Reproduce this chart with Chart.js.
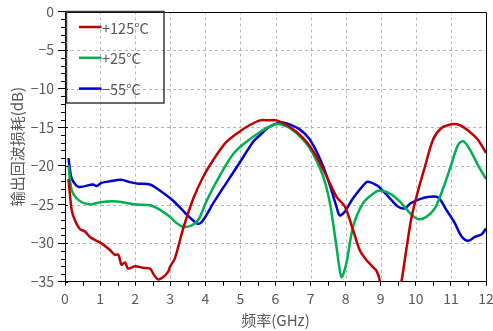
<!DOCTYPE html>
<html>
<head>
<meta charset="utf-8">
<script src="https://cdn.jsdelivr.net/npm/chart.js@4/dist/chart.umd.min.js"></script>
<style>
  html, body { margin: 0; padding: 0; background: #fff; }
  #wrap { width: 493px; height: 331px; }
</style>
</head>
<body>
<div id="wrap"><canvas id="c" width="493" height="331"></canvas></div>
<script>
// Output return loss versus frequency at three temperatures
const seriesLabels = ['+125°C', '+25°C', '\u221255°C'];
const seriesColors = ['#C00000', '#00B050', '#0000D0'];

const freqHot = [0.1, 0.19, 0.28, 0.43, 0.57, 0.71, 0.9, 1.09, 1.28, 1.42, 1.52, 1.61, 1.71, 1.8, 1.99, 2.23, 2.42, 2.56, 2.66, 2.8, 2.94, 3.0, 3.13, 3.37, 3.66, 3.94, 4.23, 4.6, 4.99, 5.27, 5.56, 5.84, 6.03, 6.32, 6.6, 6.89, 7.17, 7.46, 7.74, 7.98, 8.21, 8.4, 8.59, 8.78, 8.88, 8.97, 9.1, 9.45, 9.59, 9.74, 9.88, 10.07, 10.26, 10.49, 10.73, 11.02, 11.25, 11.54, 11.77, 12.0];
const lossHot = [-21.7, -25.7, -27.0, -28.2, -28.5, -29.2, -29.7, -30.2, -30.9, -31.5, -31.5, -32.8, -32.5, -33.3, -33.0, -33.2, -33.3, -34.3, -34.7, -34.4, -33.7, -33.0, -32.0, -28.1, -24.2, -21.4, -19.2, -16.9, -15.5, -14.7, -14.1, -14.1, -14.1, -14.7, -15.6, -16.9, -18.8, -21.4, -24.0, -25.3, -28.3, -30.9, -32.2, -33.1, -33.6, -34.8, -38.0, -38.0, -35.0, -30.5, -26.6, -23.1, -20.1, -16.6, -15.1, -14.6, -14.7, -15.6, -16.6, -18.3];

const freqRoom = [0.1, 0.19, 0.38, 0.71, 1.0, 1.47, 1.76, 2.04, 2.42, 2.71, 2.99, 3.18, 3.37, 3.61, 3.8, 4.04, 4.42, 4.79, 5.08, 5.56, 5.93, 6.13, 6.41, 6.79, 7.07, 7.36, 7.55, 7.74, 7.88, 8.02, 8.21, 8.5, 8.78, 8.97, 9.26, 9.54, 9.83, 10.07, 10.3, 10.54, 10.78, 11.02, 11.2, 11.35, 11.54, 11.77, 12.0];
const lossRoom = [-19.9, -23.1, -24.4, -25.0, -24.7, -24.6, -24.8, -25.0, -25.1, -25.7, -26.6, -27.4, -27.9, -27.7, -27.0, -24.5, -21.2, -18.5, -17.2, -15.6, -14.7, -14.6, -15.1, -16.6, -18.4, -21.4, -24.8, -30.5, -34.4, -32.6, -27.9, -24.8, -23.6, -23.2, -23.6, -24.6, -26.1, -26.9, -26.6, -25.5, -22.9, -19.7, -17.3, -16.8, -17.9, -19.9, -21.7];

const freqCold = [0.1, 0.19, 0.38, 0.8, 0.9, 1.04, 1.28, 1.6, 1.85, 2.09, 2.42, 2.61, 3.0, 3.28, 3.47, 3.61, 3.8, 3.94, 4.23, 4.6, 4.99, 5.36, 5.56, 5.84, 6.13, 6.32, 6.7, 6.98, 7.26, 7.5, 7.74, 7.83, 7.98, 8.21, 8.59, 8.69, 8.88, 8.97, 9.26, 9.5, 9.69, 9.83, 10.11, 10.4, 10.64, 10.87, 11.11, 11.3, 11.49, 11.68, 11.87, 12.0];
const lossCold = [-19.0, -21.6, -22.7, -22.4, -22.6, -22.2, -22.0, -21.8, -22.1, -22.3, -22.4, -22.9, -24.2, -25.4, -26.3, -26.9, -27.5, -27.0, -24.8, -22.2, -19.5, -16.9, -16.0, -14.9, -14.4, -14.5, -15.3, -16.6, -19.0, -21.8, -25.3, -26.4, -25.9, -24.2, -22.1, -22.1, -22.5, -22.8, -24.2, -25.3, -25.5, -24.9, -24.3, -24.0, -24.1, -25.7, -27.4, -29.1, -29.7, -29.2, -28.9, -28.1];

const xTicks = [0, 1, 2, 3, 4, 5, 6, 7, 8, 9, 10, 11, 12];
const yTicks = [0, -5, -10, -15, -20, -25, -30, -35];

const FONT = "'Noto Sans CJK SC', 'Noto Sans', sans-serif";
const TEXT = '#595959';

function pairs(xs, ys) { return xs.map((x, i) => ({ x: x, y: ys[i] })); }

// dashed grid, frame and minor ticks around the plot area
const framePlugin = {
  id: 'frame',
  beforeDatasetsDraw(chart) {
    const { ctx, chartArea: a, scales: { x, y } } = chart;
    ctx.save();
    ctx.strokeStyle = '#b4b4b4';
    ctx.lineWidth = 1;
    ctx.setLineDash([3, 3]);
    xTicks.forEach(v => {
      if (v === xTicks[0] || v === xTicks[xTicks.length - 1]) return;
      const px = Math.round(x.getPixelForValue(v)) + 0.5;
      ctx.beginPath(); ctx.moveTo(px, a.top); ctx.lineTo(px, a.bottom); ctx.stroke();
    });
    yTicks.forEach(v => {
      if (v === 0 || v === -35) return;
      const py = Math.round(y.getPixelForValue(v)) + 0.5;
      ctx.beginPath(); ctx.moveTo(a.left, py); ctx.lineTo(a.right, py); ctx.stroke();
    });
    ctx.restore();
  },
  afterDatasetsDraw(chart) {
    const { ctx, chartArea: a, scales: { x, y } } = chart;
    ctx.save();
    ctx.strokeStyle = '#000';
    ctx.lineWidth = 1;
    ctx.setLineDash([]);
    // top and right edges
    ctx.beginPath();
    ctx.moveTo(a.left, Math.round(a.top) + 0.5);
    ctx.lineTo(Math.round(a.right) + 0.5, Math.round(a.top) + 0.5);
    ctx.lineTo(Math.round(a.right) + 0.5, a.bottom);
    ctx.stroke();
    // minor ticks on y (every 1 dB) and inner part of major ticks
    for (let v = 0; v >= -35; v -= 1) {
      const py = Math.round(y.getPixelForValue(v)) + 0.5;
      ctx.beginPath();
      if (v % 5 === 0) { ctx.moveTo(a.left, py); ctx.lineTo(a.left + 3, py); }
      else { ctx.moveTo(a.left - 4, py); ctx.lineTo(a.left + 1, py); }
      ctx.stroke();
    }
    // minor ticks on x (every 0.5 GHz)
    for (let v = 0.5; v < 12; v += 1) {
      const px = Math.round(x.getPixelForValue(v)) + 0.5;
      ctx.beginPath(); ctx.moveTo(px, a.bottom); ctx.lineTo(px, a.bottom + 4); ctx.stroke();
    }
    ctx.restore();
  }
};

// boxed legend in the upper left corner of the plot
const boxLegend = {
  id: 'boxLegend',
  afterDraw(chart) {
    const { ctx, chartArea: a } = chart;
    const left = a.left + 1.5, top = a.top;
    ctx.save();
    ctx.strokeStyle = '#3a3a3a';
    ctx.lineWidth = 1.5;
    ctx.strokeRect(left, top, 97.5, 91.5);
    ctx.font = '14.5px ' + FONT;
    ctx.textBaseline = 'middle';
    ctx.fillStyle = TEXT;
    chart.data.datasets.forEach((ds, i) => {
      const yy = top + 15.5 + i * 30.8;
      ctx.strokeStyle = ds.borderColor;
      ctx.lineWidth = 2.5;
      ctx.beginPath(); ctx.moveTo(left + 12.5, yy); ctx.lineTo(left + 35, yy); ctx.stroke();
      ctx.fillText(ds.label, left + 35.5, yy + 1);
    });
    ctx.restore();
  }
};

new Chart(document.getElementById('c'), {
  type: 'line',
  data: {
    datasets: [
      { label: seriesLabels[0], data: pairs(freqHot, lossHot), borderColor: seriesColors[0] },
      { label: seriesLabels[1], data: pairs(freqRoom, lossRoom), borderColor: seriesColors[1] },
      { label: seriesLabels[2], data: pairs(freqCold, lossCold), borderColor: seriesColors[2] }
    ].map(d => Object.assign(d, { borderWidth: 2.5, pointRadius: 0, tension: 0.3, fill: false, clip: 0 }))
  },
  options: {
    responsive: false,
    animation: false,
    devicePixelRatio: 1,
    layout: { padding: { top: 11.5, right: 7, left: 0, bottom: 0 } },
    plugins: { legend: { display: false }, tooltip: { enabled: false } },
    scales: {
      x: {
        type: 'linear', min: 0, max: 12,
        afterFit(s) { s.height = 49.3; s.paddingLeft = 0; s.paddingRight = 0; },
        afterBuildTicks(s) { s.ticks = xTicks.map(v => ({ value: v })); },
        ticks: { color: TEXT, font: { family: FONT, size: 14 }, padding: 5, maxRotation: 0, autoSkip: false },
        grid: { drawOnChartArea: false, drawTicks: true, tickLength: 4, tickColor: '#000' },
        border: { display: true, color: '#000', width: 1 },
        title: { display: true, text: '频率(GHz)', color: TEXT, font: { family: FONT, size: 15 }, padding: { top: 2, bottom: 2 } }
      },
      y: {
        type: 'linear', min: -35, max: 0,
        afterFit(s) { s.width = 65; s.paddingTop = 0; s.paddingBottom = 0; },
        afterBuildTicks(s) { s.ticks = yTicks.map(v => ({ value: v })); },
        ticks: { color: TEXT, font: { family: FONT, size: 14 }, padding: 4,
                 callback: v => String(v).replace('-', '\u2212') },
        grid: { drawOnChartArea: false, drawTicks: true, tickLength: 7, tickColor: '#000' },
        border: { display: true, color: '#000', width: 1 },
        title: { display: true, text: '输出回波损耗(dB)', color: TEXT, font: { family: FONT, size: 15 }, padding: { top: 8, bottom: 2 } }
      }
    }
  },
  plugins: [framePlugin, boxLegend]
});
</script>
</body>
</html>
